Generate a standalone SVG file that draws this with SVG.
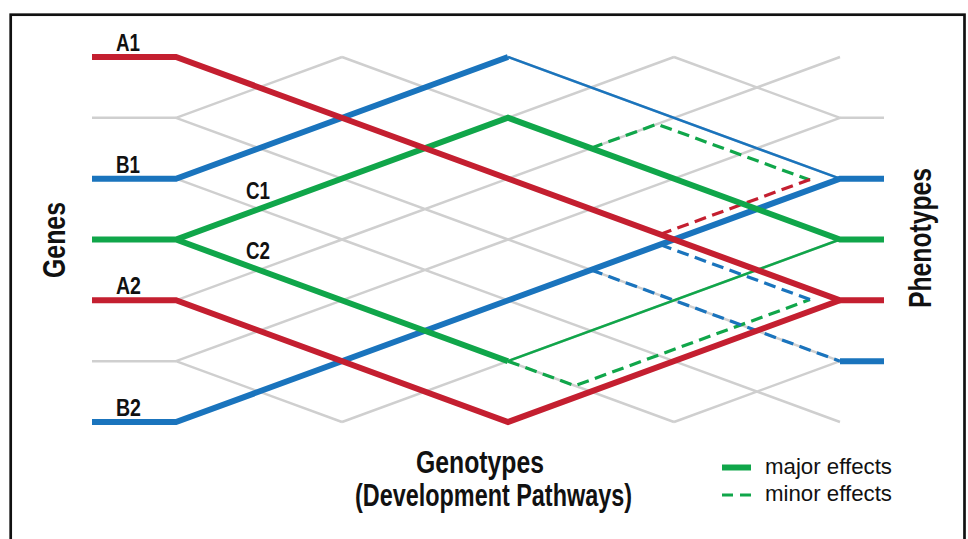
<svg xmlns="http://www.w3.org/2000/svg" xmlns:xlink="http://www.w3.org/1999/xlink" width="968" height="539" viewBox="0 0 968 539">
  <style>
    .grid { fill: none; stroke: #cfcfcf; stroke-width: 2.5; }
    .major { fill: none; stroke-width: 6; stroke-linejoin: miter; stroke-miterlimit: 10; }
    .minor { fill: none; stroke-width: 2.5; }
    .dash { fill: none; stroke-width: 3.2; stroke-dasharray: 12 6.5; }
    .red { stroke: #c41f30; }
    .blue { stroke: #1a74bd; }
    .green { stroke: #10a64a; }
    .lbl { font-family: "Liberation Sans", Arial, sans-serif; font-weight: bold; font-size: 23px; fill: #111; }
    .head { font-family: "Liberation Sans", Arial, sans-serif; font-weight: bold; font-size: 31px; fill: #111; }
    .leg { font-family: "Liberation Sans", Arial, sans-serif; font-size: 22px; fill: #111; }
  </style>
  <defs>
    <!-- one column interval of the diamond lattice (166 px wide) -->
    <path id="cell" class="grid" d="M0 57L166 117.8M0 117.8L166 178.7M0 178.7L166 239.5M0 239.5L166 300.3M0 300.3L166 361.2M0 361.2L166 422M0 117.8L166 57M0 178.7L166 117.8M0 239.5L166 178.7M0 300.3L166 239.5M0 361.2L166 300.3M0 422L166 361.2"/>
  </defs>

  <rect x="0" y="0" width="968" height="539" fill="#ffffff"/>
  <rect x="10.7" y="14.7" width="953.8" height="540" fill="none" stroke="#111" stroke-width="2.7"/>

  <!-- background lattice -->
  <g id="lattice">
    <use xlink:href="#cell" x="176"/>
    <use xlink:href="#cell" x="342"/>
    <use xlink:href="#cell" x="508"/>
    <use xlink:href="#cell" x="674"/>
    <path class="grid" d="M92 117.8H176M92 361.2H176M840 117.8H884"/>
  </g>

  <g id="connectors">
    <!-- minor effects, dashed -->
    <path class="dash green" d="M591 148.2L657 124.1L810 180.1M508 361.2L575 385.7L810 299.6"/>
    <path class="dash red" d="M660 234.4L810 179.4"/>
    <path class="dash blue" d="M660 244.6L810 299.6M591 269.9L840 361.2"/>
    <!-- thin paths -->
    <path class="minor blue" d="M508 57L840 178.7"/>
    <path class="minor green" d="M508 361.2L840 239.5"/>
    <!-- major effects -->
    <path class="major blue" d="M92 178.7H176L508 57"/>
    <path class="major blue" d="M92 422H176L840 178.7H884"/>
    <path class="major blue" d="M840 361.2H884"/>
    <path class="major green" d="M92 239.5H176L508 117.8L840 239.5H884M176 239.5L508 361.2"/>
    <path class="major red" d="M92 57H176L840 300.3H884"/>
    <path class="major red" d="M92 300.3H176L508 422L840 300.3"/>
  </g>

  <g id="gene-labels">
    <text class="lbl" x="116" y="51" textLength="24" lengthAdjust="spacingAndGlyphs">A1</text>
    <text class="lbl" x="116" y="172.5" textLength="24" lengthAdjust="spacingAndGlyphs">B1</text>
    <text class="lbl" x="246" y="199" textLength="24" lengthAdjust="spacingAndGlyphs">C1</text>
    <text class="lbl" x="246" y="259" textLength="24" lengthAdjust="spacingAndGlyphs">C2</text>
    <text class="lbl" x="116" y="294" textLength="25" lengthAdjust="spacingAndGlyphs">A2</text>
    <text class="lbl" x="116" y="416" textLength="25" lengthAdjust="spacingAndGlyphs">B2</text>
  </g>

  <g id="axis-titles">
    <text class="head" x="65" y="240" text-anchor="middle" transform="rotate(-90 65 240)" textLength="76" lengthAdjust="spacingAndGlyphs">Genes</text>
    <text class="head" x="931" y="238" text-anchor="middle" transform="rotate(-90 931 238)" textLength="140" lengthAdjust="spacingAndGlyphs">Phenotypes</text>
    <text class="head" x="416" y="473" textLength="128" lengthAdjust="spacingAndGlyphs">Genotypes</text>
    <text class="head" x="355" y="506" textLength="277" lengthAdjust="spacingAndGlyphs">(Development Pathways)</text>
  </g>

  <g id="legend">
    <path class="green" stroke-width="6" d="M722 467.5H751"/>
    <path class="green" stroke-width="3" stroke-dasharray="11 7" d="M722 495H751"/>
    <text class="leg" x="765" y="474" textLength="127" lengthAdjust="spacingAndGlyphs">major effects</text>
    <text class="leg" x="765" y="501" textLength="127" lengthAdjust="spacingAndGlyphs">minor effects</text>
  </g>
</svg>
